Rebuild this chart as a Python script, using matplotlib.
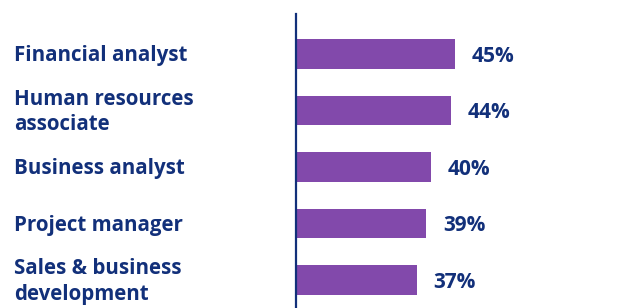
import matplotlib

matplotlib.use("Agg")
import matplotlib.pyplot as plt
from matplotlib.transforms import blended_transform_factory

# data
roles = [
    "Financial analyst",
    "Human resources\nassociate",
    "Business analyst",
    "Project manager",
    "Sales & business\ndevelopment",
]
shares = [45, 44, 40, 39, 37]
share_labels = ["45%", "44%", "40%", "39%", "37%"]

NAVY = "#12307a"
PURPLE = "#8249ab"

plt.rcParams["font.family"] = ["Open Sans", "DejaVu Sans"]

fig = plt.figure(figsize=(6.19, 3.08), dpi=100)
ax = fig.add_axes([296 / 619, 0, 323 / 619, 294 / 308])

ypos = list(range(len(roles)))
ax.barh(ypos, shares, height=0.53, color=PURPLE, left=0)

ax.set_ylim(4.496, -0.708)
ax.set_xlim(12, 12 + 323 / 4.83)

for y, v, lab in zip(ypos, shares, share_labels):
    ax.annotate(lab, xy=(v, y), xytext=(12, -1.5), textcoords="offset points",
                ha="left", va="center", fontsize=15, fontweight="bold", color=NAVY)

trans = blended_transform_factory(fig.transFigure, ax.transData)
for y, name in zip(ypos, roles):
    fig.text(14 / 619, y + 0.03, name, transform=trans, ha="left", va="center",
             fontsize=14.8, fontweight="bold", color=NAVY, linespacing=1.28)

for s in ["top", "right", "bottom"]:
    ax.spines[s].set_visible(False)
ax.spines["left"].set_color(NAVY)
ax.spines["left"].set_linewidth(1.6)
ax.set_xticks([])
ax.set_yticks([])

fig.savefig("out.png", dpi=100)
